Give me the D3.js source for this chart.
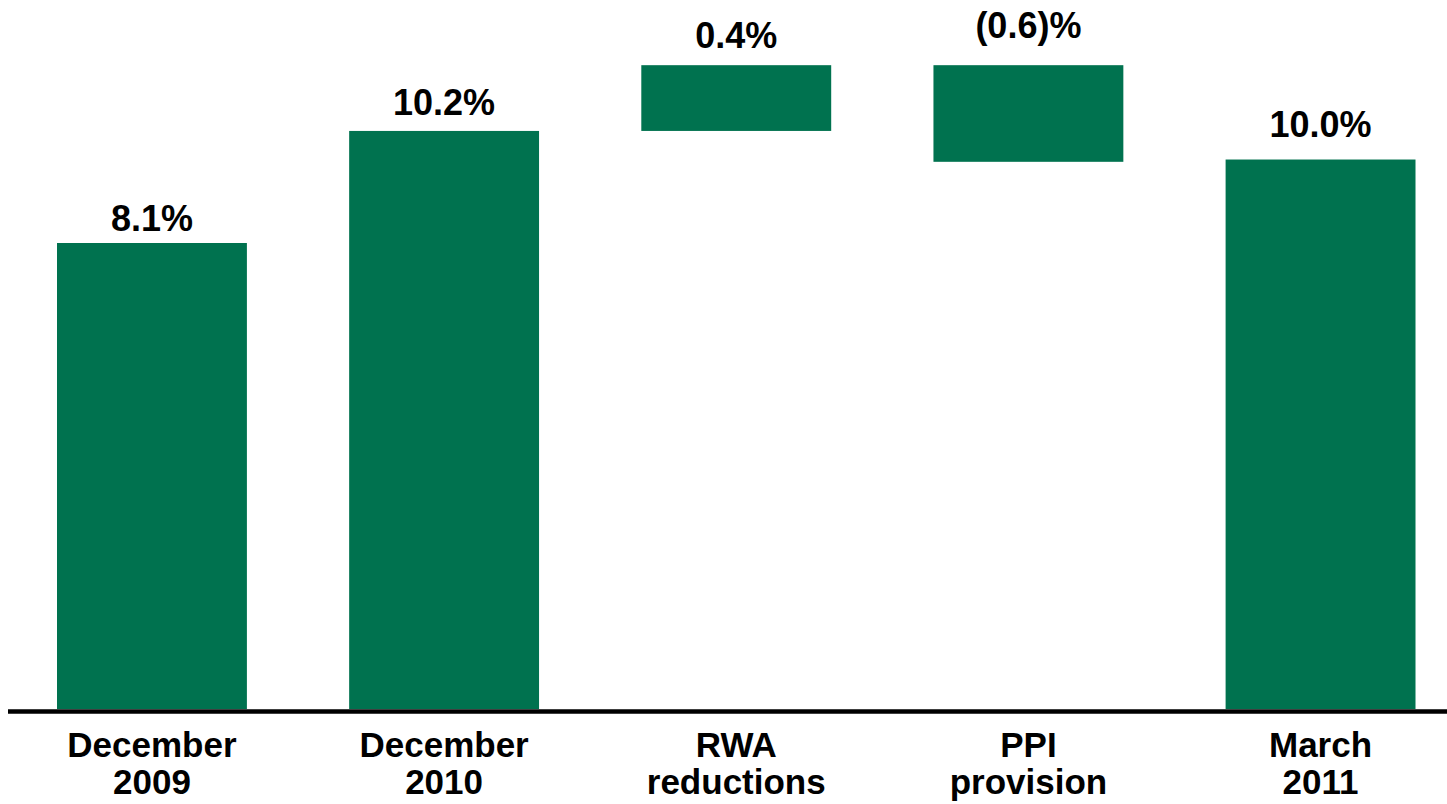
<!DOCTYPE html>
<html>
<head>
<meta charset="utf-8">
<script src="https://cdn.jsdelivr.net/npm/d3@7"></script>
<style>
  html, body { margin: 0; padding: 0; background: #fff; }
  svg { display: block; }
  text { font-family: "Liberation Sans", Arial, sans-serif; font-weight: bold; fill: #000; }
</style>
</head>
<body>
<div id="chart"></div>
<script>
// categories (two-line labels)
const categories = ["December 2009", "December 2010", "RWA reductions", "PPI provision", "March 2011"];
const categoryLines = [["December", "2009"], ["December", "2010"], ["RWA", "reductions"], ["PPI", "provision"], ["March", "2011"]];
// value labels as printed
const valueLabels = ["8.1%", "10.2%", "0.4%", "(0.6)%", "10.0%"];
// bar extents as drawn (chart units)
const barLow = [0, 0, 10.11, 9.57, 0];
const barHigh = [8.15, 10.11, 11.26, 11.26, 9.61];

const width = 1447, height = 804;
const green = "#00724f";

const svg = d3.select("#chart").append("svg")
    .attr("width", width)
    .attr("height", height);

const x = d3.scaleBand()
    .domain(categories)
    .range([57, 1415.5])
    .paddingInner(0.35)
    .paddingOuter(0);

const y = d3.scaleLinear()
    .domain([0, 12.4])
    .range([709, 0]);

const bars = categories.map((c, i) => ({
    cat: c, lo: barLow[i], hi: barHigh[i], label: valueLabels[i], lines: categoryLines[i], i
}));

// label lift above bar top (pixels)
const labelGap = [12, 16, 17, 27, 23];

svg.append("g")
    .selectAll("rect")
    .data(bars)
    .join("rect")
    .attr("x", d => x(d.cat))
    .attr("y", d => y(d.hi))
    .attr("width", x.bandwidth())
    .attr("height", d => y(d.lo) - y(d.hi))
    .attr("fill", green);

svg.append("g")
    .selectAll("text")
    .data(bars)
    .join("text")
    .attr("x", d => x(d.cat) + x.bandwidth() / 2)
    .attr("y", d => y(d.hi) - labelGap[d.i])
    .attr("text-anchor", "middle")
    .style("font-size", "36px")
    .text(d => d.label);

// baseline
svg.append("line")
    .attr("x1", 8)
    .attr("x2", width)
    .attr("y1", y(0) + 2.5)
    .attr("y2", y(0) + 2.5)
    .attr("stroke", "#000")
    .attr("stroke-width", 4.5);

// category labels
const cats = svg.append("g")
    .selectAll("text")
    .data(bars)
    .join("text")
    .attr("text-anchor", "middle")
    .style("font-size", "35px");

cats.selectAll("tspan")
    .data(d => d.lines.map((l, k) => ({ l, k, cx: x(d.cat) + x.bandwidth() / 2 })))
    .join("tspan")
    .attr("x", t => t.cx)
    .attr("y", t => y(0) + 48 + t.k * 37)
    .text(t => t.l);
</script>
</body>
</html>
